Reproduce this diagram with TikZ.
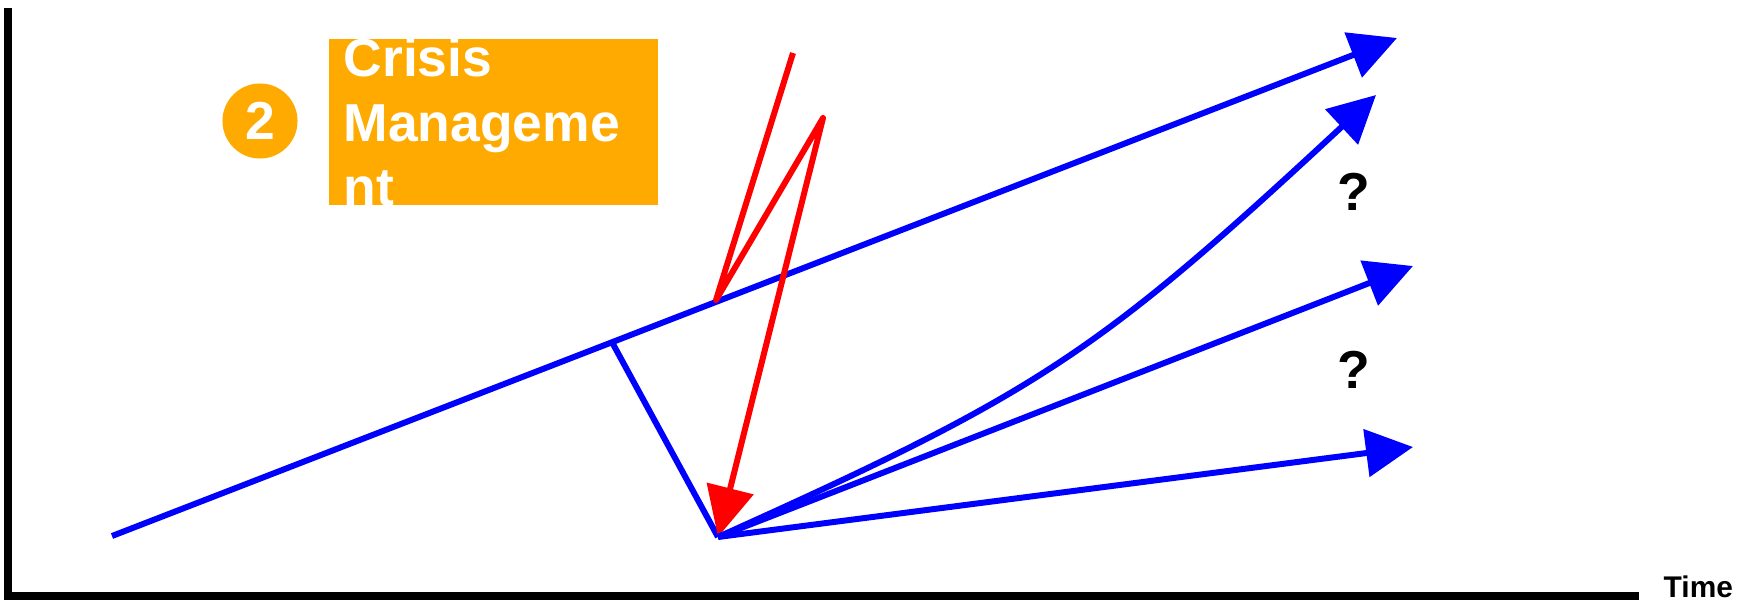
\documentclass[tikz,border=0pt]{standalone}
\usepackage{fontspec}
\setmainfont{Liberation Sans}
\usetikzlibrary{arrows.meta}
\definecolor{routeblue}{RGB}{0,0,255}
\definecolor{shockred}{RGB}{255,0,0}
\definecolor{phase}{RGB}{255,170,0}
\tikzset{
  axis/.style={black, line width=2pt, line join=miter},
  routeline/.style={routeblue, line width=1.7pt},
  routearrow/.style={routeline, -{Triangle[length=4.7mm, width=4.7mm]}},
  shockarrow/.style={shockred, line width=1.7pt, line join=round, -{Triangle[length=5mm, width=4.7mm]}},
  bigtext/.style={font=\fontsize{15.2}{18}\selectfont\bfseries, inner sep=0pt},
  badge/.style={circle, fill=phase, minimum size=7.5mm, inner sep=0pt, text=white, bigtext},
  phasebox/.style={fill=phase, inner sep=0pt, minimum width=3.29cm, minimum height=1.66cm},
}
\begin{document}
\begin{tikzpicture}[x=0.01cm, y=-0.01cm]
  \useasboundingbox (0,0) rectangle (1758,600);
  % axes
  \coordinate (ytop) at (8,8);
  \coordinate (origin) at (8,596);
  \coordinate (xend) at (1639,596);
  \draw[axis] (ytop) -- (origin) -- (xend);
  \node[font=\fontsize{8.5}{10}\selectfont\bfseries, inner sep=0pt, anchor=base west] (timelabel) at (1663,597) {Time};

  % phase label
  \node[badge] (phasenum) at (260,121) {2};
  \node[phasebox, anchor=north west] (crisis) at (328,38) {};
  \begin{scope}
    \clip (crisis.south west) rectangle (crisis.north east);
    \node[bigtext, text=white, anchor=base west] (crisisa) at (343,77) {Crisis};
    \node[bigtext, text=white, anchor=base west] (crisisb) at (343,141) {Manageme};
    \node[bigtext, text=white, anchor=base west] (crisisc) at (343,205) {nt};
  \end{scope}

  % trend and branches
  \coordinate (trendstart) at (112,536);
  \coordinate (trendtip) at (1397,38);
  \coordinate (fork) at (613,344);
  \coordinate (dip) at (718,537);
  \coordinate (curvetip) at (1376,95);
  \coordinate (midtip) at (1413,266);
  \coordinate (lowtip) at (1413,447);
  \draw[routearrow] (trendstart) -- (trendtip);
  \draw[routeline] (fork) -- (dip);

  % the shock
  \coordinate (shockstart) at (793,53);
  \coordinate (shockhit) at (716,300);
  \coordinate (shockturn) at (823,118);
  \draw[shockarrow] (shockstart) -- (shockhit) -- (shockturn) -- (dip);

  \draw[routearrow] (dip) .. controls (1038,393) and (1096,355) .. (curvetip);
  \draw[routearrow] (dip) -- (midtip);
  \draw[routearrow] (dip) -- (lowtip);

  \node[bigtext] (querya) at (1354,192) {?};
  \node[bigtext] (queryb) at (1354,370) {?};
\end{tikzpicture}
\end{document}
